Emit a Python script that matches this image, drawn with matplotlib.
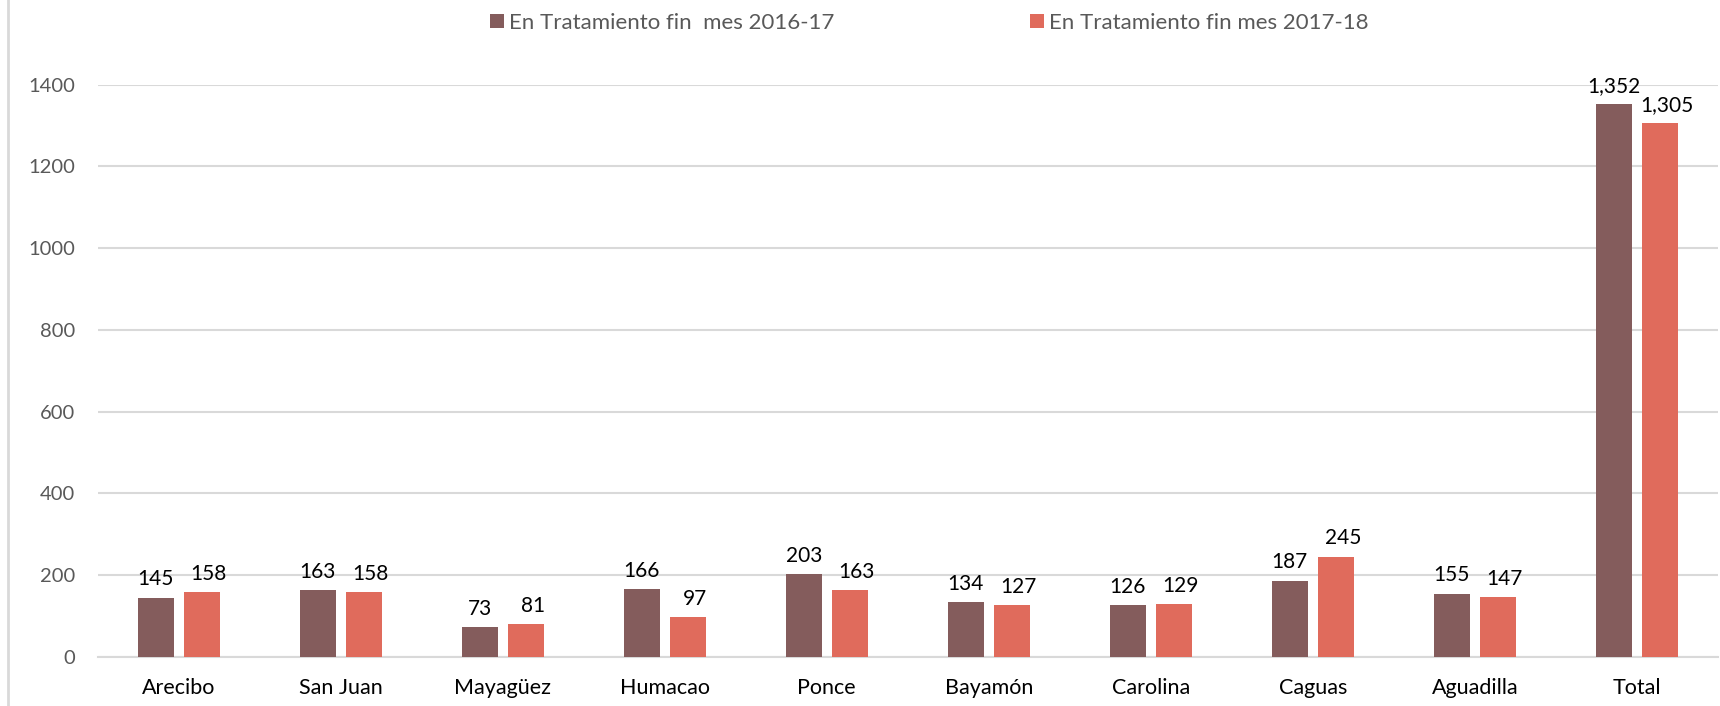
import matplotlib
matplotlib.use("Agg")
import matplotlib.pyplot as plt
import numpy as np
from matplotlib.lines import Line2D

# data
regions = ["Arecibo", "San Juan", "Mayagüez", "Humacao", "Ponce",
           "Bayamón", "Carolina", "Caguas", "Aguadilla", "Total"]
fin_2016_17 = [145, 163, 73, 166, 203, 134, 126, 187, 155, 1352]
fin_2017_18 = [158, 158, 81, 97, 163, 127, 129, 245, 147, 1305]
series_names = ["En Tratamiento fin  mes 2016-17", "En Tratamiento fin mes 2017-18"]
yticks = [0, 200, 400, 600, 800, 1000, 1200, 1400]

c_dark = "#845C5C"
c_light = "#E06B5C"
grid_c = "#D9D9D9"
txt_gray = "#595959"

plt.rcParams['font.family'] = ['Lato', 'DejaVu Sans']

fig = plt.figure(figsize=(17.2, 7.06), dpi=100)
ax = fig.add_axes([0.0567, 0.0694, 0.9421, 0.8109])

x = np.arange(len(regions))
w = 0.222
off = 0.142
b1 = ax.bar(x - off, fin_2016_17, w, color=c_dark, label=series_names[0], zorder=3)
b2 = ax.bar(x + off, fin_2017_18, w, color=c_light, label=series_names[1], zorder=3)

# value labels (second series sits a little to the right, as in the original)
for bars, vals, dx in ((b1, fin_2016_17, 0), (b2, fin_2017_18, 5)):
    for r, v in zip(bars, vals):
        ax.annotate(f"{v:,}", (r.get_x() + r.get_width() / 2, r.get_height()),
                    xytext=(dx, 6), textcoords="offset points",
                    ha="center", va="bottom", fontsize=15, color="black",
                    annotation_clip=False)

ax.set_xlim(-0.5, len(regions) - 0.5)
ax.set_ylim(0, 1400)
ax.set_yticks(yticks)
ax.set_xticks(x)
ax.set_xticklabels(regions, fontsize=15.5, color="black")
ax.tick_params(axis="y", labelsize=14.5, colors=txt_gray, length=0, pad=16)
ax.tick_params(axis="x", length=0, pad=15)
ax.grid(axis="y", color=grid_c, linewidth=1.5, zorder=0)
ax.set_axisbelow(True)
for s in ["top", "right", "left"]:
    ax.spines[s].set_visible(False)
ax.spines["bottom"].set_color(grid_c)
ax.spines["bottom"].set_linewidth(1.5)

# legend
fig.legend(handles=[b1, b2], labels=series_names, loc="center",
           bbox_to_anchor=(0.5405, 0.968), ncol=2, frameon=False,
           fontsize=16, labelcolor=txt_gray, handlelength=0.6, handleheight=0.6,
           handletextpad=0.25, columnspacing=8.8)

# left border of the chart area
fig.add_artist(Line2D([0.0047, 0.0047], [0, 1], color=grid_c, linewidth=2,
                      transform=fig.transFigure))

fig.savefig("out.png", dpi=100)
